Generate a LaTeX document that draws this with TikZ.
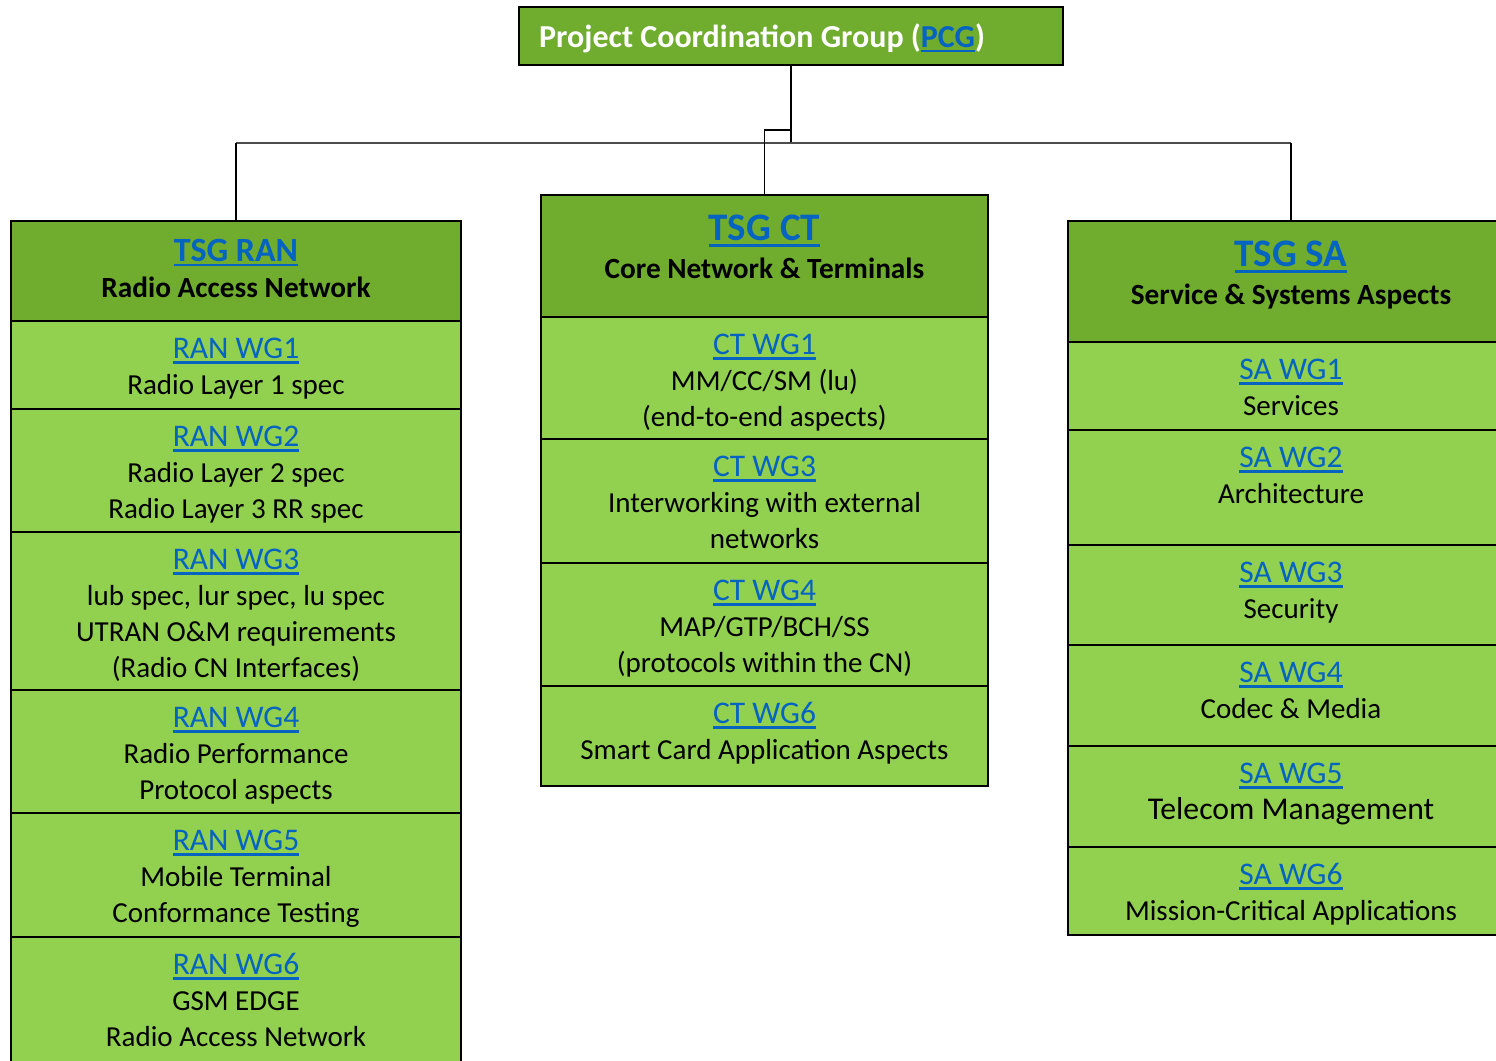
\documentclass[tikz,border=0pt]{standalone}
\usepackage{fontspec}
\setmainfont{Carlito}
\definecolor{tsggreen}{HTML}{70AD2F}
\definecolor{wggreen}{HTML}{92D050}
\definecolor{linkblue}{HTML}{0563C1}
% underlined link text
\newcommand{\ulink}[1]{\textcolor{linkblue}{\setbox0\hbox{#1}\rlap{\rule[-0.16em]{\wd0}{0.07em}}\box0}}
\newcommand{\wglink}[1]{{\fontsize{31.5}{36}\selectfont\ulink{#1}}}
\newcommand{\tsglink}[2]{{\fontsize{#1}{36}\selectfont\bfseries\ulink{#2}}}
\tikzset{
  tsgbox/.style={draw=black, line width=2.8pt, fill=tsggreen, anchor=north, inner sep=0pt, outer sep=0pt},
  wgbox/.style={tsgbox, fill=wggreen},
  wgtext/.style={anchor=base, align=flush center, text width=430pt, inner sep=0pt, font=\fontsize{29}{36}\selectfont},
  hdtext/.style={wgtext, font=\fontsize{29.3}{36}\selectfont\bfseries},
  link/.style={line width=1.4pt}
}

\begin{document}
\begin{tikzpicture}[x=1pt, y=-1pt]
  \useasboundingbox (0,0) rectangle (1496,1060);
  \clip (0,0) rectangle (1496,1060);
  \fill[white] (0,0) rectangle (1496,1060);

  % PCG
  \node[tsgbox, anchor=north west, minimum width=544pt, minimum height=58pt] (pcg) at (519,7) {};
  \node[anchor=base west, inner sep=0pt, font=\fontsize{32}{36}\selectfont\bfseries] (pcgtxt) at (539,47)
    {\textcolor{white}{Project Coordination Group (}\ulink{PCG}\textcolor{white}{)}};

  % TSG RAN
  \node[tsgbox, minimum width=450pt, minimum height=100pt] (ran) at (236,221) {};
  \node[wgbox, minimum width=450pt, minimum height=88pt] (ranwg1) at (ran.south) {};
  \node[wgbox, minimum width=450pt, minimum height=123pt] (ranwg2) at (ranwg1.south) {};
  \node[wgbox, minimum width=450pt, minimum height=158pt] (ranwg3) at (ranwg2.south) {};
  \node[wgbox, minimum width=450pt, minimum height=123pt] (ranwg4) at (ranwg3.south) {};
  \node[wgbox, minimum width=450pt, minimum height=124pt] (ranwg5) at (ranwg4.south) {};
  \node[wgbox, minimum width=450pt, minimum height=140pt] (ranwg6) at (ranwg5.south) {};
  \node[hdtext] (rantxt) at ([yshift=-40pt]ran.north) {\tsglink{34}{TSG RAN}\\Radio Access Network};
  \node[wgtext] (ranwg1txt) at ([yshift=-37.5pt]ranwg1.north) {\wglink{RAN WG1}\\Radio Layer 1 spec};
  \node[wgtext] (ranwg2txt) at ([yshift=-37.5pt]ranwg2.north) {\wglink{RAN WG2}\\Radio Layer 2 spec\\Radio Layer 3 RR spec};
  \node[wgtext] (ranwg3txt) at ([yshift=-37.5pt]ranwg3.north) {\wglink{RAN WG3}\\lub spec, lur spec, lu spec\\UTRAN O\&M requirements\\(Radio CN Interfaces)};
  \node[wgtext] (ranwg4txt) at ([yshift=-37.5pt]ranwg4.north) {\wglink{RAN WG4}\\Radio Performance\\Protocol aspects};
  \node[wgtext] (ranwg5txt) at ([yshift=-37.5pt]ranwg5.north) {\wglink{RAN WG5}\\Mobile Terminal\\Conformance Testing};
  \node[wgtext] (ranwg6txt) at ([yshift=-37.5pt]ranwg6.north) {\wglink{RAN WG6}\\GSM EDGE\\Radio Access Network};

  % TSG CT
  \node[tsgbox, minimum width=447pt, minimum height=122pt] (ct) at (764.5,195) {};
  \node[wgbox, minimum width=447pt, minimum height=122pt] (ctwg1) at (ct.south) {};
  \node[wgbox, minimum width=447pt, minimum height=124pt] (ctwg3) at (ctwg1.south) {};
  \node[wgbox, minimum width=447pt, minimum height=123pt] (ctwg4) at (ctwg3.south) {};
  \node[wgbox, minimum width=447pt, minimum height=100pt] (ctwg6) at (ctwg4.south) {};
  \node[hdtext] (cttxt) at ([yshift=-45.5pt]ct.north) {\tsglink{39}{TSG CT}\\[2pt]Core Network \& Terminals};
  \node[wgtext] (ctwg1txt) at ([yshift=-37.5pt]ctwg1.north) {\wglink{CT WG1}\\MM/CC/SM (lu)\\(end-to-end aspects)};
  \node[wgtext] (ctwg3txt) at ([yshift=-37.5pt]ctwg3.north) {\wglink{CT WG3}\\Interworking with external\\networks};
  \node[wgtext] (ctwg4txt) at ([yshift=-37.5pt]ctwg4.north) {\wglink{CT WG4}\\MAP/GTP/BCH/SS\\(protocols within the CN)};
  \node[wgtext] (ctwg6txt) at ([yshift=-37.5pt]ctwg6.north) {\wglink{CT WG6}\\Smart Card Application Aspects};

  % TSG SA
  \node[tsgbox, minimum width=446pt, minimum height=121pt] (sa) at (1291,221) {};
  \node[wgbox, minimum width=446pt, minimum height=88pt] (sawg1) at (sa.south) {};
  \node[wgbox, minimum width=446pt, minimum height=115pt] (sawg2) at (sawg1.south) {};
  \node[wgbox, minimum width=446pt, minimum height=100pt] (sawg3) at (sawg2.south) {};
  \node[wgbox, minimum width=446pt, minimum height=101pt] (sawg4) at (sawg3.south) {};
  \node[wgbox, minimum width=446pt, minimum height=101pt] (sawg5) at (sawg4.south) {};
  \node[wgbox, minimum width=446pt, minimum height=88pt] (sawg6) at (sawg5.south) {};
  \node[hdtext] (satxt) at ([yshift=-45.5pt]sa.north) {\tsglink{39}{TSG SA}\\[2pt]Service \& Systems Aspects};
  \node[wgtext] (sawg1txt) at ([yshift=-37.5pt]sawg1.north) {\wglink{SA WG1}\\Services};
  \node[wgtext] (sawg2txt) at ([yshift=-37.5pt]sawg2.north) {\wglink{SA WG2}\\Architecture};
  \node[wgtext] (sawg3txt) at ([yshift=-37.5pt]sawg3.north) {\wglink{SA WG3}\\Security};
  \node[wgtext] (sawg4txt) at ([yshift=-37.5pt]sawg4.north) {\wglink{SA WG4}\\Codec \& Media};
  \node[wgtext] (sawg5txt) at ([yshift=-37.5pt]sawg5.north) {\wglink{SA WG5}\\{\fontsize{31.7}{36}\selectfont Telecom Management}};
  \node[wgtext] (sawg6txt) at ([yshift=-37.5pt]sawg6.north) {\wglink{SA WG6}\\Mission-Critical Applications};

  % connectors
  \coordinate (jog) at ([yshift=-65pt]pcg.south);
  \coordinate (bus) at ([yshift=-78pt]pcg.south);
  \draw[link] (pcg.south) -- (bus);
  \draw[link, black!70] (ran.north |- bus) -- (sa.north |- bus);
  \draw[link] (ran.north |- bus) -- (ran.north);
  \draw[link] (sa.north |- bus) -- (sa.north);
  \draw[link] (jog) -| (ct.north);
\end{tikzpicture}
\end{document}
